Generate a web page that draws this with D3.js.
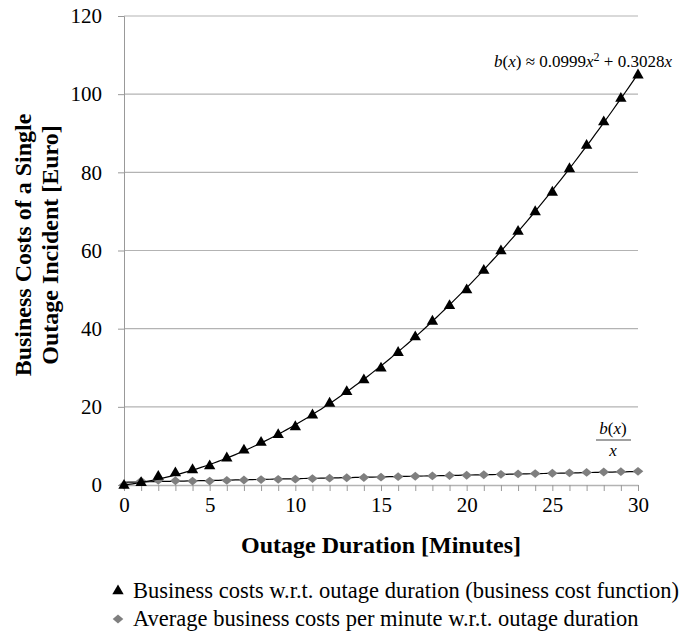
<!DOCTYPE html>
<html>
<head>
<meta charset="utf-8">
<script src="https://cdn.jsdelivr.net/npm/d3@7"></script>
<style>
  body { margin: 0; background: #fff; }
  text { font-family: "Liberation Serif", "Times New Roman", serif; }
</style>
</head>
<body>
<svg width="689" height="637"></svg>
<script>
// chart data
var minutes = d3.range(0, 31);
var businessCosts = [0, 0.7, 2.3, 3.2, 4, 5, 7, 9, 11, 13, 15, 18, 21, 24, 27, 30,
    34, 38, 42, 46, 50, 55, 60, 65, 70, 75, 81, 87, 93, 99, 105];
var avgCosts = [0, 1, 1.2, 1.1, 1, 1, 1.17, 1.29, 1.38, 1.44, 1.5, 1.64, 1.75, 1.85, 1.93, 2,
    2.13, 2.24, 2.33, 2.42, 2.5, 2.62, 2.73, 2.83, 2.92, 3, 3.12, 3.22, 3.32, 3.41, 3.5];
var yTicks = [0, 20, 40, 60, 80, 100, 120];
var xTicks = [0, 5, 10, 15, 20, 25, 30];
var legendLabels = ['Business costs w.r.t. outage duration (business cost function)',
    'Average business costs per minute w.r.t. outage duration'];

var svg = d3.select('svg');
var margin = {left: 124, right: 51, top: 16, bottom: 152};
var width = +svg.attr('width');
var height = +svg.attr('height');

var x = d3.scaleLinear().domain([0, 30]).range([margin.left, width - margin.right]);
var y = d3.scaleLinear().domain([0, 120]).range([height - margin.bottom, margin.top]);

// gridlines
svg.append('g')
    .selectAll('line')
    .data(yTicks.slice(1))
    .enter()
    .append('line')
    .attr('x1', x(0)).attr('x2', x(30))
    .attr('y1', function(d) { return y(d); })
    .attr('y2', function(d) { return y(d); })
    .attr('stroke', '#b3b3b3')
    .attr('stroke-width', 1.2);

// y axis
var yAxis = svg.append('g')
    .attr('transform', 'translate(' + x(0) + ',0)')
    .call(d3.axisLeft(y).tickValues(yTicks).tickSize(6).tickPadding(16));
yAxis.select('.domain').attr('stroke', '#999');
yAxis.selectAll('.tick line').attr('stroke', '#999');
yAxis.selectAll('text')
    .style('font-size', '21px')
    .attr('fill', '#000');

// x axis, minor tick every minute
var xAxis = svg.append('g')
    .attr('transform', 'translate(0,' + y(0) + ')')
    .call(d3.axisBottom(x).tickValues(minutes).tickSize(6).tickSizeOuter(0)
        .tickFormat(function(d) { return xTicks.indexOf(d) >= 0 ? d : ''; }).tickPadding(6));
xAxis.select('.domain').attr('stroke', '#b3b3b3').attr('stroke-width', 1.5);
xAxis.selectAll('.tick line').attr('stroke', '#999');
xAxis.selectAll('text')
    .style('font-size', '21px')
    .attr('fill', '#000');

// fitted trend lines (least squares from the data)
function fitQuadNoIntercept(xs, ys) {
    var s4 = 0, s3 = 0, s2 = 0, sy2 = 0, sy1 = 0;
    xs.forEach(function(v, i) {
        s4 += v * v * v * v; s3 += v * v * v; s2 += v * v;
        sy2 += v * v * ys[i]; sy1 += v * ys[i];
    });
    var det = s4 * s2 - s3 * s3;
    var a = (sy2 * s2 - s3 * sy1) / det;
    var b = (s4 * sy1 - s3 * sy2) / det;
    return function(t) { return a * t * t + b * t; };
}
function fitLinear(xs, ys) {
    var mx = d3.mean(xs), my = d3.mean(ys);
    var num = d3.sum(xs, function(v, i) { return (v - mx) * (ys[i] - my); });
    var den = d3.sum(xs, function(v) { return (v - mx) * (v - mx); });
    var k = num / den;
    return function(t) { return my + k * (t - mx); };
}
var quad = fitQuadNoIntercept(minutes, businessCosts);
var lin = fitLinear(minutes.slice(1), avgCosts.slice(1));
var samples = d3.range(0, 30.01, 0.25);

var line = d3.line()
    .x(function(d) { return x(d[0]); })
    .y(function(d) { return y(d[1]); });

svg.append('path')
    .datum(samples.map(function(t) { return [t, lin(t)]; }))
    .attr('d', line)
    .attr('fill', 'none')
    .attr('stroke', '#000')
    .attr('stroke-width', 1.2);

// diamond markers
var diamond = d3.symbol().type(d3.symbolDiamond2).size(50);
svg.append('g')
    .selectAll('path')
    .data(minutes)
    .enter()
    .append('path')
    .attr('d', diamond)
    .attr('transform', function(d, i) { return 'translate(' + x(d) + ',' + y(avgCosts[i]) + ') scale(1.2,1)'; })
    .attr('fill', '#7f7f7f');

svg.append('path')
    .datum(samples.map(function(t) { return [t, quad(t)]; }))
    .attr('d', line)
    .attr('fill', 'none')
    .attr('stroke', '#000')
    .attr('stroke-width', 1.2);

// triangle markers
var triangle = d3.symbol().type(d3.symbolTriangle).size(56);
svg.append('g')
    .selectAll('path')
    .data(minutes)
    .enter()
    .append('path')
    .attr('d', triangle)
    .attr('transform', function(d, i) { return 'translate(' + x(d) + ',' + (y(businessCosts[i]) + 0.5) + ')'; })
    .attr('fill', '#000');

// axis titles
svg.append('text')
    .attr('x', x(15))
    .attr('y', 553)
    .attr('text-anchor', 'middle')
    .style('font-size', '24px')
    .style('font-weight', 'bold')
    .text('Outage Duration [Minutes]');

var yTitle = svg.append('text')
    .attr('transform', 'translate(0,245) rotate(-90)')
    .attr('text-anchor', 'middle')
    .style('font-size', '24px')
    .style('font-weight', 'bold');
yTitle.append('tspan').attr('x', 0).attr('y', 31).text('Business Costs of a Single');
yTitle.append('tspan').attr('x', 0).attr('y', 58).text('Outage Incident [Euro]');

// formula annotation
var formula = svg.append('text')
    .attr('x', 672)
    .attr('y', 67)
    .attr('text-anchor', 'end')
    .style('font-size', '17px');
formula.append('tspan').style('font-style', 'italic').text('b');
formula.append('tspan').text('(');
formula.append('tspan').style('font-style', 'italic').text('x');
formula.append('tspan').text(') ≈ 0.0999');
formula.append('tspan').style('font-style', 'italic').text('x');
formula.append('tspan').attr('dy', -6).style('font-size', '12px').text('2');
formula.append('tspan').attr('dy', 6).text(' + 0.3028');
formula.append('tspan').style('font-style', 'italic').text('x');

// b(x)/x fraction label
var fx = 613;
var num = svg.append('text')
    .attr('x', fx).attr('y', 434)
    .attr('text-anchor', 'middle')
    .style('font-size', '17px');
num.append('tspan').style('font-style', 'italic').text('b');
num.append('tspan').text('(');
num.append('tspan').style('font-style', 'italic').text('x');
num.append('tspan').text(')');
svg.append('line')
    .attr('x1', 596).attr('x2', 631)
    .attr('y1', 440).attr('y2', 440)
    .attr('stroke', '#444')
    .attr('stroke-width', 1.2);
svg.append('text')
    .attr('x', fx).attr('y', 456)
    .attr('text-anchor', 'middle')
    .style('font-size', '17px')
    .style('font-style', 'italic')
    .text('x');

// legend
var legend = svg.append('g');
var legendSymbols = [triangle, diamond];
var legendColors = ['#000', '#7f7f7f'];
legendLabels.forEach(function(label, i) {
    var ly = 591 + i * 28;
    legend.append('path')
        .attr('d', legendSymbols[i])
        .attr('transform', 'translate(118,' + ly + ')' + (i ? ' scale(1.2,1)' : ''))
        .attr('fill', legendColors[i]);
    legend.append('text')
        .attr('x', 133)
        .attr('y', ly + 7)
        .style('font-size', '22.5px')
        .text(label);
});
</script>
</body>
</html>
